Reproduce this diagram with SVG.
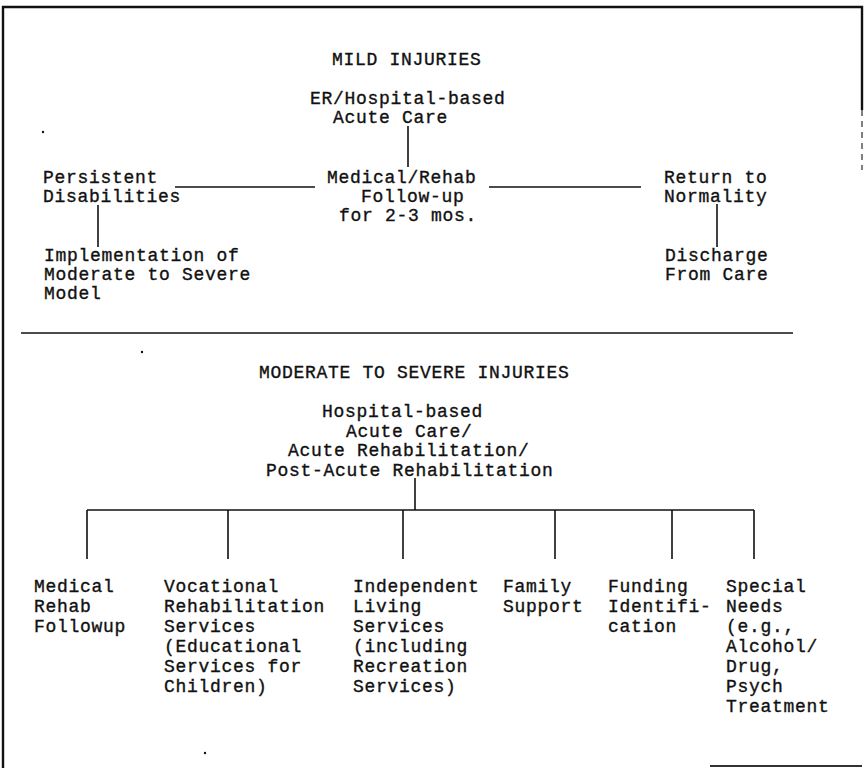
<svg xmlns="http://www.w3.org/2000/svg" width="864" height="768" viewBox="0 0 864 768">
<style>
text{font-family:"Liberation Mono","Courier New",monospace;font-size:18px;letter-spacing:0.7px;fill:#111;stroke:#111;stroke-width:0.35}
.ln{stroke:#111;stroke-width:1.6;fill:none}
.fr{stroke:#111;stroke-width:2.4;fill:none}
</style>
<rect width="864" height="768" fill="#fff"/>
<g id="frame">
<path class="fr" d="M3 768V7H862V110"/>
<path d="M862 110V170" stroke="#555" stroke-width="1.5" stroke-dasharray="6 5"/>
<path d="M710 766H862" stroke="#333" stroke-width="2"/>
<circle cx="43" cy="132" r="1.2" fill="#111"/>
<circle cx="142" cy="352" r="1.2" fill="#111"/>
<circle cx="205" cy="753" r="1.2" fill="#111"/>
</g>
<g id="connectors">
<path class="ln" d="M408 126V167"/>
<path class="ln" d="M175 187H315"/>
<path class="ln" d="M489 187H641"/>
<path class="ln" d="M98 205V247"/>
<path class="ln" d="M717 204V247"/>
<path class="ln" d="M21 333H793"/>
<path class="ln" d="M415 478V510"/>
<path class="ln" d="M87 510H754"/>
<path class="ln" d="M87 510V559M228 510V559M403 510V559M555 510V559M672 510V559M754 510V559"/>
</g>
<g id="title-mild"><text x="332" y="65">MILD INJURIES</text></g>
<g id="er-acute"><text x="310" y="104">ER/Hospital-based</text><text x="333" y="123">Acute Care</text></g>
<g id="med-followup"><text x="327" y="183">Medical/Rehab</text><text x="361" y="202">Follow-up</text><text x="339" y="221">for 2-3 mos.</text></g>
<g id="persistent"><text x="43" y="183">Persistent</text><text x="43" y="202">Disabilities</text></g>
<g id="return-normal"><text x="664" y="183">Return to</text><text x="664" y="202">Normality</text></g>
<g id="implementation"><text x="44" y="261">Implementation of</text><text x="44" y="280">Moderate to Severe</text><text x="44" y="299">Model</text></g>
<g id="discharge"><text x="665" y="261">Discharge</text><text x="665" y="280">From Care</text></g>
<g id="title-moderate"><text x="259" y="378">MODERATE TO SEVERE INJURIES</text></g>
<g id="hospital"><text x="322" y="417">Hospital-based</text><text x="346" y="437">Acute Care/</text><text x="288" y="456">Acute Rehabilitation/</text><text x="266" y="476">Post-Acute Rehabilitation</text></g>
<g id="medical-rehab"><text x="34" y="592">Medical</text><text x="34" y="612">Rehab</text><text x="34" y="632">Followup</text></g>
<g id="vocational"><text x="164" y="592">Vocational</text><text x="164" y="612">Rehabilitation</text><text x="164" y="632">Services</text><text x="164" y="652">(Educational</text><text x="164" y="672">Services for</text><text x="164" y="692">Children)</text></g>
<g id="independent"><text x="353" y="592">Independent</text><text x="353" y="612">Living</text><text x="353" y="632">Services</text><text x="353" y="652">(including</text><text x="353" y="672">Recreation</text><text x="353" y="692">Services)</text></g>
<g id="family"><text x="503" y="592">Family</text><text x="503" y="612">Support</text></g>
<g id="funding"><text x="608" y="592">Funding</text><text x="608" y="612">Identifi-</text><text x="608" y="632">cation</text></g>
<g id="special"><text x="726" y="592">Special</text><text x="726" y="612">Needs</text><text x="726" y="632">(e.g.,</text><text x="726" y="652">Alcohol/</text><text x="726" y="672">Drug,</text><text x="726" y="692">Psych</text><text x="726" y="712">Treatment</text></g>
</svg>
